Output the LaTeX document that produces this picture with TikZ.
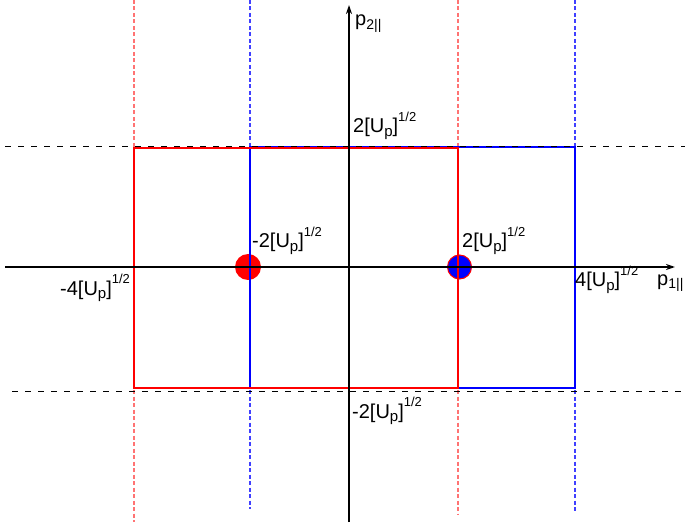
\documentclass[tikz,border=0pt]{standalone}
\usepackage{fontspec}
\setmainfont{Liberation Sans}
\usetikzlibrary{arrows.meta}

% root of U_p, as printed on the axes
\newcommand{\sqrtUp}{[U\raisebox{-0.3ex}{\fontsize{15}{15}\selectfont p}]%
  \raisebox{1.05ex}{\fontsize{13}{13}\selectfont 1/2}}

\begin{document}
\begin{tikzpicture}[
    x=1pt, y=-1pt,
    >={Stealth[length=9pt, width=6pt]},
    font={\fontsize{20}{24}\selectfont},
    axis/.style={->, line width=1.6pt},
    bound/.style={black, line width=0.9pt, dash pattern=on 6pt off 7pt},
    guide/.style={line width=1.1pt, dash pattern=on 4pt off 2.5pt},
    lbl/.style={inner sep=0pt, anchor=base west},
]
\useasboundingbox (0,0) rectangle (685,529);

% ---- vertical guide lines ----
\foreach \x/\yend in {134/522, 458/515}
  \draw[guide, red!55] (\x,0) -- (\x,\yend);
\foreach \x/\yend in {250/509, 575/513}
  \draw[guide, blue!75] (\x,0) -- (\x,\yend);

% ---- points (under the lines) ----
\fill[red] (248,267) circle (13);
\filldraw[fill=blue, draw=red, line width=1pt] (459.5,267) circle (12);

% ---- boxes ----
\draw[blue, line width=1.8pt] (250,147) rectangle (575,388);
\draw[red,  line width=1.8pt] (134,148) rectangle (458,388);

% ---- horizontal bounds ----
\draw[bound] (5,146) -- (685,146);
\draw[bound] (12,391) -- (685,391);

% ---- axes ----
\coordinate (xs) at (5,267);
\coordinate (xe) at (675,267);
\coordinate (ys) at (349,522);
\coordinate (ye) at (349,5);
\draw[axis] (xs) -- (xe);
\draw[axis] (ys) -- (ye);

\node[lbl] (p1) at (657,285) {p\textsubscript{1||}};
\node[lbl] (p2) at (355,26)  {p\textsubscript{2||}};

% ---- tick labels ----
\node[lbl] (ytop) at (353,133) {2\sqrtUp};
\node[lbl] (ybot) at (352,418) {-2\sqrtUp};
\node[lbl] (xl2)  at (252,248) {-2\sqrtUp};
\node[lbl] (xr2)  at (462,248) {2\sqrtUp};
\node[lbl] (xl4)  at (60,295)  {-4\sqrtUp};
\node[lbl] (xr4)  at (575,287) {4\sqrtUp};

\end{tikzpicture}
\end{document}
